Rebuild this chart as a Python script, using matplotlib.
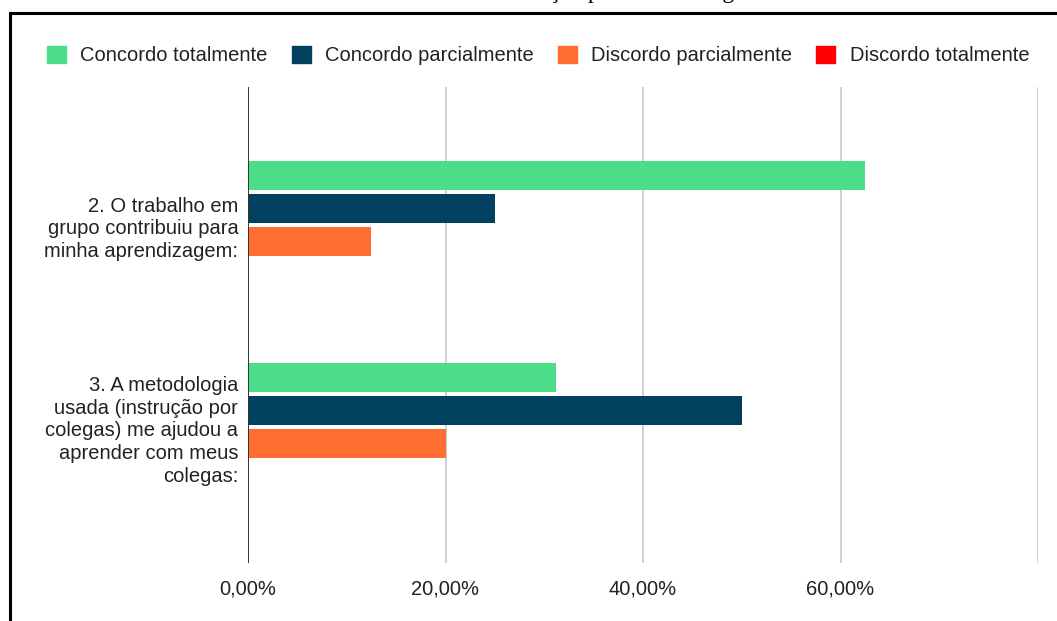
import matplotlib
matplotlib.use("Agg")
import matplotlib.pyplot as plt
from matplotlib.lines import Line2D
import numpy as np

# Respostas por afirmação (em %)
perguntas = [
    "2. O trabalho em\ngrupo contribuiu para\nminha aprendizagem:",
    "3. A metodologia\nusada (instrução por\ncolegas) me ajudou a\naprender com meus\ncolegas:",
]
series = ["Concordo totalmente", "Concordo parcialmente",
          "Discordo parcialmente", "Discordo totalmente"]
concordo_total = [62.5, 31.2]
concordo_parcial = [25.0, 50.0]
discordo_parcial = [12.5, 20.0]
discordo_total = [0.0, 0.0]
xticks = [0, 20, 40, 60]
xtick_labels = ["0,00%", "20,00%", "40,00%", "60,00%"]

cores = ["#4bdd88", "#01415f", "#ff6d31", "#ff0000"]

plt.rcParams["font.family"] = ["Liberation Sans", "DejaVu Sans"]
plt.rcParams["font.size"] = 14.5

W, H = 1057, 621
fig = plt.figure(figsize=(W / 100, H / 100), dpi=100)
ax = fig.add_axes([248 / W, 1 - 563 / H, (1038 - 248) / W, (563 - 87) / H])

y = np.arange(len(perguntas))
passo = 0.163
altura = 0.143
valores = [concordo_total, concordo_parcial, discordo_parcial, discordo_total]
for i, (nome, vals, cor) in enumerate(zip(series, valores, cores)):
    ax.barh(y + (i - 1.5) * passo, vals, height=altura, color=cor,
            label=nome, zorder=3)

ax.set_xlim(0, 80)
ax.set_ylim(1.673, -0.683)
ax.set_xticks(xticks)
ax.set_xticklabels(xtick_labels)
ax.set_yticks(y)
ax.set_yticklabels(perguntas, linespacing=1.26)
ax.tick_params(axis="both", length=0, colors="#222222", labelsize=14.5)
ax.tick_params(axis="x", pad=12)
ax.tick_params(axis="y", pad=7)

for s in ax.spines.values():
    s.set_visible(False)
for gx in [20, 40, 60, 80]:
    ax.axvline(gx, color="#cccccc", lw=1.3, zorder=1)
ax.axvline(0, color="#333333", lw=1.4, zorder=4)

handles = [plt.Rectangle((0, 0), 1, 1, color=c) for c in cores]
fig.legend(handles, series, loc="center left",
           bbox_to_anchor=(47 / W, 1 - 55.5 / H), ncol=4, frameon=False,
           handlelength=0.95, handleheight=0.95, handletextpad=0.7,
           columnspacing=1.2, borderpad=0, borderaxespad=0,
           fontsize=14.5, labelcolor="#222222")

# moldura do documento
fig.add_artist(Line2D([10 / W, 1], [1 - 13 / H, 1 - 13 / H], color="black", lw=2.2))
fig.add_artist(Line2D([10 / W, 10 / W], [1 - 13 / H, 0], color="black", lw=2.2))

# título (cortado no topo)
fig.text(620 / W, 1 + 2 / H, "Avaliação pela metodologia", ha="center",
         va="baseline", fontsize=17, family="Liberation Serif", color="black")

fig.savefig("out.png", dpi=100, facecolor="white")
